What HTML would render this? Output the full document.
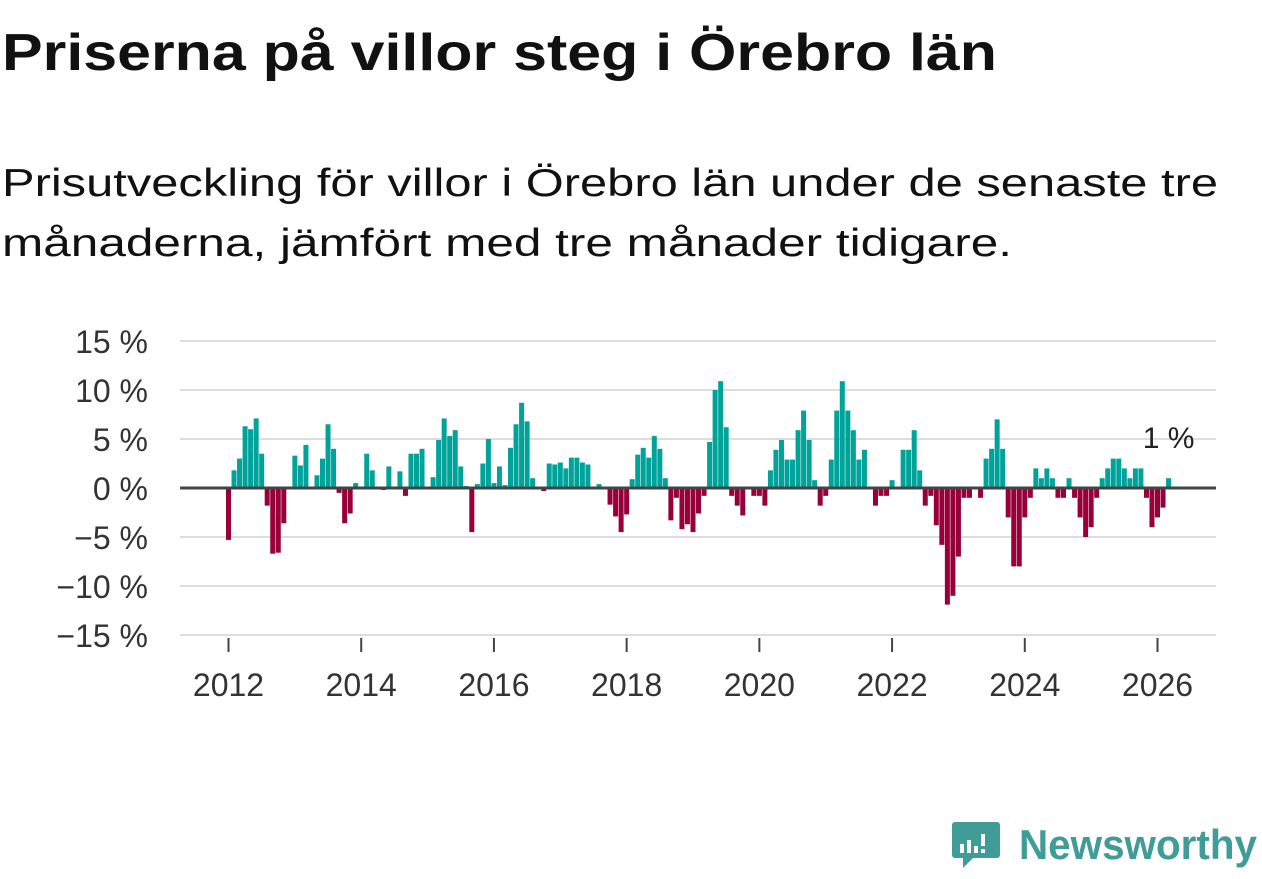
<!DOCTYPE html>
<html><head><meta charset="utf-8"><style>
html,body{margin:0;padding:0;background:#fff;width:1262px;height:879px;overflow:hidden}
svg{display:block;font-family:"Liberation Sans",sans-serif}
</style></head><body>
<svg id="chart" width="1262" height="879">
<text x="2" y="70" font-size="52" font-weight="bold" fill="#111" textLength="995" lengthAdjust="spacingAndGlyphs">Priserna på villor steg i Örebro län</text>
<text x="2" y="196" font-size="39" fill="#111" textLength="1216" lengthAdjust="spacingAndGlyphs">Prisutveckling för villor i Örebro län under de senaste tre</text>
<text x="2" y="256" font-size="39" fill="#111" textLength="1010" lengthAdjust="spacingAndGlyphs">månaderna, jämfört med tre månader tidigare.</text>
<g id="grid"></g><g id="bars"></g><g id="axes"></g>
<g>
<path d="M955 822 h42 a3 3 0 0 1 3 3 v30 a3 3 0 0 1 -3 3 h-24 l-10 10 v-10 h-8 a3 3 0 0 1 -3 -3 v-30 a3 3 0 0 1 3 -3z" fill="#3f9c96"/>
<rect x="960" y="844" width="4" height="9" fill="#fff"/><rect x="967" y="840" width="4" height="13" fill="#fff"/><rect x="974" y="846" width="4" height="7" fill="#fff"/><rect x="981" y="834" width="4" height="12" fill="#fff"/><rect x="981" y="849" width="4" height="4" fill="#fff"/>
<text x="1019" y="859" font-size="42" font-weight="bold" fill="#3f9c96" textLength="238" lengthAdjust="spacingAndGlyphs">Newsworthy</text>
</g>
</svg>
<script>
const years=[2012,2014,2016,2018,2020,2022,2024,2026];
const yTicks=[15,10,5,0,-5,-10,-15];
const yTickLabels=["15 %","10 %","5 %","0 %","−5 %","−10 %","−15 %"];
const startYear=2012;
const values=[
-5.3,1.8,3.0,6.3,6.0,7.1,3.5,-1.8,-6.7,-6.6,-3.6,0,
3.3,2.3,4.4,0,1.3,3.0,6.5,4.0,-0.5,-3.6,-2.6,0.5,
0,3.5,1.8,0,-0.2,2.2,0,1.7,-0.8,3.5,3.5,4.0,
0,1.1,4.9,7.1,5.3,5.9,2.2,0.2,-4.5,0.4,2.5,5.0,
0.5,2.2,0.3,4.1,6.5,8.7,6.8,1.0,0,-0.3,2.5,2.4,
2.6,2.0,3.1,3.1,2.6,2.4,0.1,0.4,0.1,-1.7,-2.9,-4.5,
-2.7,0.9,3.4,4.1,3.1,5.3,4.0,1.0,-3.3,-1.0,-4.2,-3.7,
-4.5,-2.6,-0.8,4.7,10.0,10.9,6.2,-0.8,-1.8,-2.8,0,-0.8,
-0.8,-1.8,1.8,3.9,4.9,2.9,2.9,5.9,7.9,4.9,0.8,-1.8,
-0.8,2.9,7.9,10.9,7.9,5.9,2.9,3.9,0,-1.8,-0.8,-0.8,
0.8,0,3.9,3.9,5.9,1.8,-1.8,-0.8,-3.8,-5.8,-11.9,-11.0,
-7.0,-1.0,-1.0,0,-1.0,3.0,4.0,7.0,4.0,-3.0,-8.0,-8.0,
-3.0,-1.0,2.0,1.0,2.0,1.0,-1.0,-1.0,1.0,-1.0,-3.0,-5.0,
-4.0,-1.0,1.0,2.0,3.0,3.0,2.0,1.0,2.0,2.0,-1.0,-4.0,
-3.0,-2.0,1.0];
const NS="http://www.w3.org/2000/svg";
const x=i=>228.5+i*(929/168);
const xYear=yr=>x((yr-startYear)*12);
const y=v=>488-v*9.8;
function mk(tag,attrs,parent){const e=document.createElementNS(NS,tag);for(const k in attrs)e.setAttribute(k,attrs[k]);parent.appendChild(e);return e;}
const grid=document.getElementById('grid'),bars=document.getElementById('bars'),axes=document.getElementById('axes');
yTicks.forEach((t,i)=>{
  if(t!==0){const l=mk('line',{x1:180,x2:1216,y1:y(t),y2:y(t),stroke:'#ddd','stroke-width':2},grid);
  
  }
  const tx=mk('text',{x:148,y:y(t)+12,'font-size':32,fill:'#333','text-anchor':'end'},axes);
  tx.textContent=yTickLabels[i];
  
  
});
values.forEach((v,i)=>{
  if(v===0)return;
  const r=mk('rect',{x:x(i)-2.5,width:5,y:Math.min(y(v),y(0)),height:Math.abs(y(v)-y(0)),fill:v>0?'#00a39a':'#98003a'},bars);
  
  
});
const z=mk('line',{x1:180,x2:1216,y1:y(0),y2:y(0),stroke:'#444','stroke-width':3},axes);


years.forEach(yr=>{
  const t=mk('line',{x1:xYear(yr),x2:xYear(yr),y1:638,y2:652,stroke:'#444','stroke-width':2},axes);
  
  
  const tx=mk('text',{x:xYear(yr),y:696,'font-size':32,fill:'#333','text-anchor':'middle'},axes);
  tx.textContent=yr;
  
  
});
const last=values.length-1;
const lab=mk('text',{x:x(last),y:y(values[last])-30,'font-size':30,fill:'#222','text-anchor':'middle'},axes);
lab.textContent=String(values[last]).replace('.',',')+' %';


</script>
</body></html>
